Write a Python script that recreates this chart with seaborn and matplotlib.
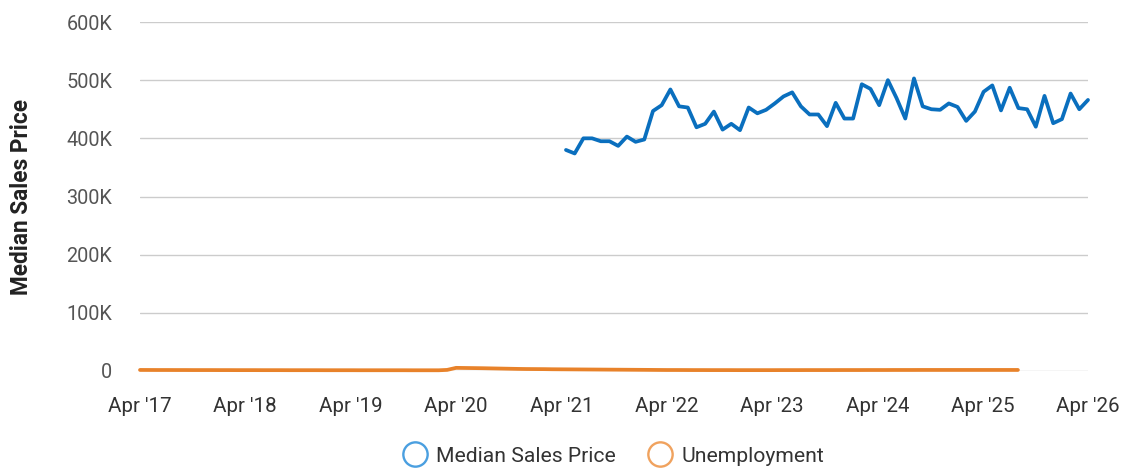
import numpy as np
import pandas as pd
import matplotlib
matplotlib.use("Agg")
import matplotlib.pyplot as plt
import seaborn as sns
from matplotlib.ticker import FuncFormatter
from matplotlib.lines import Line2D

# ---- data ----
price_dates = pd.date_range(start="2021-04-17", end="2026-04-01", periods=61)
median_sales_price = [
    380000, 374000, 400000, 400000, 395000, 395000, 387000, 403000, 394000, 398000,
    447000, 457000, 484000, 455000, 453000, 419000, 425000, 446000, 415000, 425000,
    414000, 453000, 443000, 449000, 460000, 472000, 479000, 455000, 441000, 441000,
    421000, 461000, 434000, 434000, 493000, 485000, 457000, 500000, 469000, 434000,
    503000, 455000, 450000, 449000, 460000, 454000, 430000, 446000, 480000, 491000,
    448000, 487000, 452000, 450000, 420000, 473000, 426000, 433000, 477000, 450000,
    466000,
]

unemp_dates = pd.date_range(start="2017-04-01", end="2025-08-01", freq="MS")
unemployment = [
    1800, 1750, 1700, 1700, 1650, 1650, 1600, 1600, 1600, 1550, 1550, 1500,
    1500, 1500, 1450, 1450, 1450, 1400, 1400, 1400, 1400, 1350, 1350, 1350,
    1350, 1300, 1300, 1300, 1300, 1300, 1300, 1250, 1250, 1250, 1250, 1900,
    5400, 5200, 5000, 4800, 4500, 4200, 3900, 3600, 3400, 3300, 3200, 3000,
    2900, 2800, 2700, 2600, 2500, 2400, 2300, 2200, 2100, 2000, 1900, 1800,
    1700, 1700, 1650, 1600, 1600, 1550, 1550, 1550, 1500, 1500, 1500, 1500,
    1500, 1550, 1550, 1550, 1600, 1600, 1600, 1600, 1650, 1650, 1650, 1700,
    1700, 1700, 1750, 1750, 1750, 1800, 1800, 1800, 1800, 1800, 1800, 1800,
    1800, 1800, 1800, 1800, 1800,
]

x_ticks = pd.date_range(start="2017-04-01", end="2026-04-01", freq="12MS")
x_tick_labels = ["Apr '17", "Apr '18", "Apr '19", "Apr '20", "Apr '21",
                 "Apr '22", "Apr '23", "Apr '24", "Apr '25", "Apr '26"]
y_ticks = [0, 100000, 200000, 300000, 400000, 500000, 600000]

# ---- style ----
sns.set_style("white")
plt.rcParams["font.family"] = ["Roboto", "DejaVu Sans"]

blue = "#0A6FBE"
orange = "#E8822A"

fig = plt.figure(figsize=(11.30, 4.69), dpi=100)
ax = fig.add_axes([140 / 1130, 1 - 371 / 469, (1088 - 140) / 1130, (371 - 22) / 469])

price_df = pd.DataFrame({"date": price_dates, "value": median_sales_price})
unemp_df = pd.DataFrame({"date": unemp_dates, "value": unemployment})

sns.lineplot(data=unemp_df, x="date", y="value", ax=ax, color=orange,
             linewidth=2.7, clip_on=False, zorder=3)
sns.lineplot(data=price_df, x="date", y="value", ax=ax, color=blue,
             linewidth=2.7, clip_on=False, zorder=4)

ax.set_xlim(x_ticks[0], x_ticks[-1])
ax.set_ylim(0, 600000)
ax.set_yticks(y_ticks)
ax.yaxis.set_major_formatter(FuncFormatter(lambda v, p: "0" if v == 0 else f"{int(v/1000)}K"))
ax.set_xticks(x_ticks)
ax.set_xticklabels(x_tick_labels)

ax.grid(axis="y", color="#CCCCCC", linewidth=1)
ax.grid(axis="x", visible=False)
for s in ax.spines.values():
    s.set_visible(False)
ax.tick_params(axis="y", length=0, pad=20, labelsize=14.3, labelcolor="#555555")
ax.tick_params(axis="x", length=0, pad=18.5, labelsize=14.8, labelcolor="#333333")

ax.set_xlabel("")
ax.set_ylabel("Median Sales Price", fontsize=16.3, fontweight="bold", color="#222222")
ax.yaxis.set_label_coords((33 - 140) / 948, 0.5)

handles = [
    Line2D([], [], linestyle="none", marker="o", markersize=17.5, markerfacecolor="none",
           markeredgecolor="#4A9FE0", markeredgewidth=1.7),
    Line2D([], [], linestyle="none", marker="o", markersize=17.5, markerfacecolor="none",
           markeredgecolor="#F0A25E", markeredgewidth=1.7),
]
fig.legend(handles, ["Median Sales Price", "Unemployment"], loc="center",
           bbox_to_anchor=(612 / 1130, 1 - 456 / 469), ncol=2, frameon=False,
           fontsize=15.2, handlelength=1.4, handletextpad=0.3, columnspacing=1.42,
           labelcolor="#333333")

fig.savefig("out.png", dpi=100)
